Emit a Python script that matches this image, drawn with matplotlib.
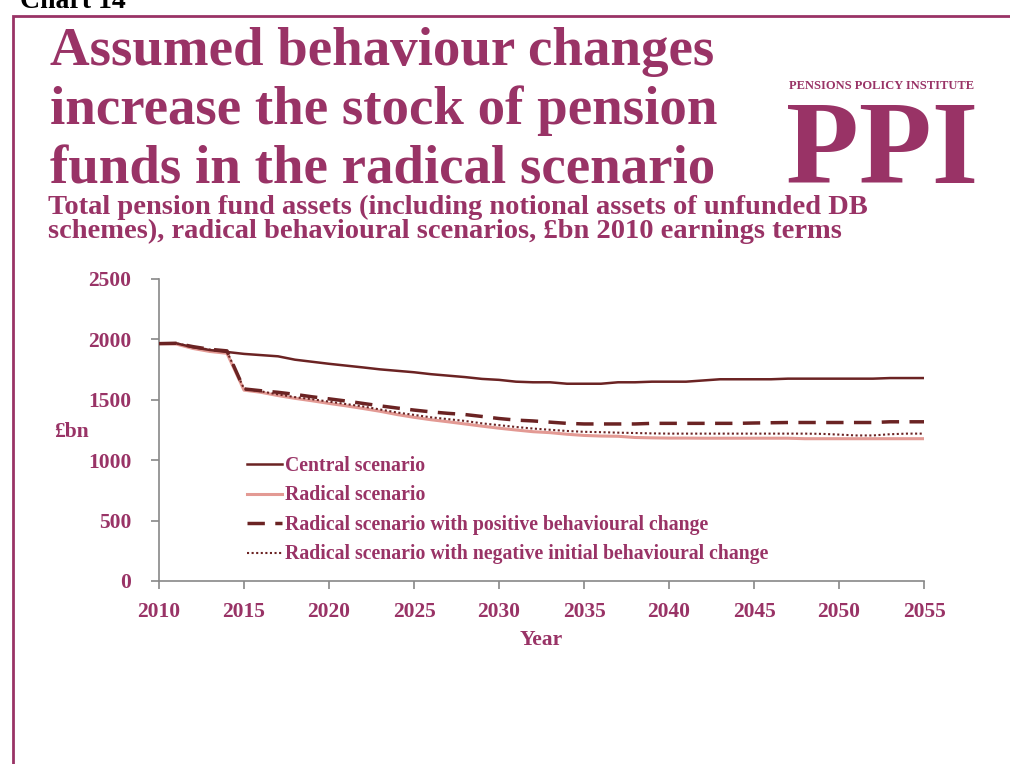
import matplotlib
matplotlib.use("Agg")
from matplotlib import pyplot as plt
from matplotlib.patches import Rectangle

years = list(range(2010, 2056))

central = [1965, 1968, 1935, 1912, 1896, 1880, 1870, 1860, 1832, 1815,
           1798, 1783, 1768, 1752, 1740, 1728, 1712, 1700, 1688, 1673,
           1665, 1650, 1645, 1645, 1633, 1633, 1633, 1645, 1645, 1650,
           1650, 1650, 1660, 1670, 1670, 1670, 1670, 1675, 1675, 1675,
           1675, 1675, 1675, 1680, 1680, 1680]

radical = [1965, 1962, 1925, 1900, 1885, 1580, 1562, 1535, 1512, 1492,
           1470, 1450, 1428, 1405, 1378, 1355, 1335, 1318, 1300, 1282,
           1265, 1250, 1236, 1228, 1215, 1205, 1200, 1198, 1188, 1185,
           1183, 1183, 1182, 1182, 1182, 1182, 1182, 1182, 1178, 1178,
           1178, 1178, 1178, 1178, 1178, 1178]

positive = [1965, 1968, 1940, 1918, 1905, 1590, 1575, 1562, 1545, 1525,
            1508, 1490, 1470, 1450, 1432, 1415, 1400, 1388, 1378, 1362,
            1345, 1332, 1325, 1315, 1305, 1300, 1300, 1300, 1300, 1305,
            1305, 1305, 1305, 1305, 1305, 1308, 1310, 1312, 1312, 1312,
            1312, 1312, 1312, 1318, 1318, 1318]

negative = [1965, 1968, 1938, 1915, 1900, 1592, 1570, 1545, 1522, 1505,
            1485, 1465, 1445, 1420, 1395, 1375, 1355, 1340, 1325, 1305,
            1290, 1275, 1262, 1252, 1242, 1235, 1232, 1228, 1225, 1222,
            1220, 1220, 1220, 1220, 1220, 1220, 1220, 1220, 1220, 1218,
            1212, 1205, 1205, 1215, 1220, 1220]

labels = ["Central scenario",
          "Radical scenario",
          "Radical scenario with positive behavioural change",
          "Radical scenario with negative initial behavioural change"]

x_ticks = list(range(2010, 2056, 5))
y_ticks = [0, 500, 1000, 1500, 2000, 2500]

ppi = "#993366"
dark = "#6b2323"
pink = "#e39a94"
serif = "Liberation Serif"

plt.rcParams["font.family"] = serif

fig = plt.figure(figsize=(10.1, 7.64), dpi=100)

# page frame and heading
fig.text(20 / 1010, 1 - 2 / 764, "Chart 14", fontsize=20, fontweight="bold",
         color="black", va="center", ha="left")
fig.add_artist(Rectangle((13 / 1010, -0.1), 1.2, 1 - 16 / 764 + 0.1,
                         transform=fig.transFigure, fill=False,
                         edgecolor=ppi, linewidth=2))

title = ["Assumed behaviour changes",
         "increase the stock of pension",
         "funds in the radical scenario"]
for i, line in enumerate(title):
    fig.text(50 / 1010, 1 - (65 + 59 * i) / 764, line, fontsize=39.5,
             fontweight="bold", color=ppi, va="baseline", ha="left")

subtitle = ["Total pension fund assets (including notional assets of unfunded DB",
            "schemes), radical behavioural scenarios, \u00a3bn 2010 earnings terms"]
for i, line in enumerate(subtitle):
    fig.text(48 / 1010, 1 - (214 + 24 * i) / 764, line, fontsize=20.5,
             fontweight="bold", color=ppi, va="baseline", ha="left")

# logo
fig.text(882 / 1010, 1 - 86 / 764, "PENSIONS POLICY INSTITUTE", fontsize=9,
         fontweight="bold", color=ppi, va="center", ha="center")
fig.text(882 / 1010, 1 - 183 / 764, "PPI", fontsize=86, fontweight="bold",
         color=ppi, va="baseline", ha="center")

ax = fig.add_axes([159 / 1010, 1 - 581 / 764, 765 / 1010, 302 / 764])

ax.plot(years, radical, color=pink, linewidth=2.2, label=labels[1], zorder=2)
ax.plot(years, negative, color=dark, linewidth=1.5, linestyle=(0, (1, 1.2)),
        label=labels[3], zorder=3)
ax.plot(years, positive, color=dark, linewidth=2.5, linestyle=(0, (5, 3)),
        label=labels[2], zorder=4)
ax.plot(years, central, color=dark, linewidth=1.8, label=labels[0], zorder=5)

ax.set_xlim(2010, 2055)
ax.set_ylim(0, 2500)
ax.set_xticks(x_ticks)
ax.set_yticks(y_ticks)

for side in ["top", "right"]:
    ax.spines[side].set_visible(False)
for side in ["left", "bottom"]:
    ax.spines[side].set_color("#888888")
    ax.spines[side].set_linewidth(1.2)
ax.tick_params(axis="both", colors="#888888", length=6, width=1.2,
               labelcolor=ppi, labelsize=15.5)
ax.tick_params(axis="x", pad=9)
ax.tick_params(axis="y", pad=14)
for lbl in ax.get_xticklabels() + ax.get_yticklabels():
    lbl.set_fontweight("bold")

ax.set_xlabel("Year", fontsize=15.5, fontweight="bold", color=ppi)
ax.xaxis.set_label_coords(0.5, -0.162)
ax.set_ylabel("\u00a3bn", fontsize=15.5, fontweight="bold", color=ppi,
              rotation=0, va="center", ha="center")
ax.yaxis.set_label_coords(-0.115, 0.493)

handles, names = ax.get_legend_handles_labels()
order = [names.index(n) for n in labels]
leg = ax.legend([handles[i] for i in order], [names[i] for i in order],
                loc="upper left", bbox_to_anchor=(0.105, 0.44), frameon=False,
                fontsize=14.2, handlelength=1.75, handletextpad=0.15,
                labelspacing=0.48, borderaxespad=0)
for t in leg.get_texts():
    t.set_color(ppi)
    t.set_fontweight("bold")

fig.savefig("out.png", dpi=100)
